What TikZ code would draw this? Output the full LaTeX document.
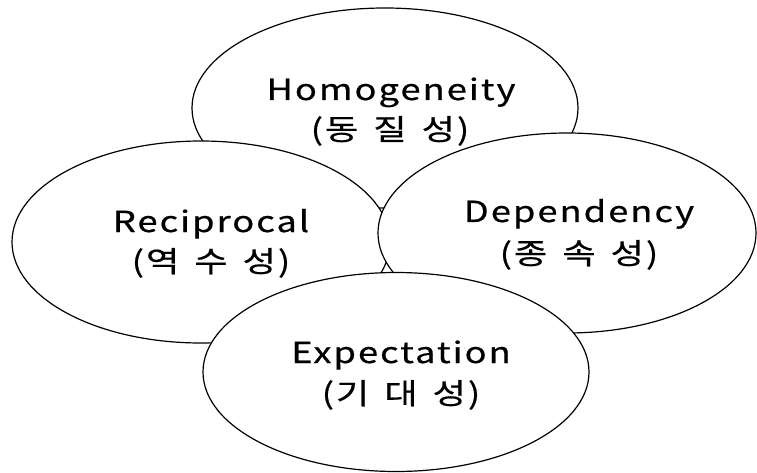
\documentclass[tikz,border=0pt]{standalone}
\usepackage{fontspec}
\setmainfont{Noto Sans CJK KR}[FakeStretch=1.25,LetterSpace=7,FakeBold=0.6]
\usetikzlibrary{shapes.geometric}
\newcommand\kgap{\hspace{15pt}}
\tikzset{
  oval/.style={ellipse, draw=black, fill=white, line width=1.2pt, inner sep=0pt},
  lbl/.style={anchor=base, inner sep=0pt, font=\fontsize{29}{32}\selectfont, text=black}
}
\begin{document}
\begin{tikzpicture}[x=1pt,y=-1pt]
\useasboundingbox[fill=white] (0,0) rectangle (757,473);
\node[oval, minimum width=386pt, minimum height=200pt] (homo) at (385,108) {};
\node[oval, minimum width=378pt, minimum height=202pt] (reci) at (201,242) {};
\node[oval, minimum width=378pt, minimum height=200pt] (depe) at (567,233) {};
\node[oval, minimum width=386pt, minimum height=199pt] (expe) at (396,372) {};
\node[lbl] (homoA) at (391,100) {Homogeneity};
\node[lbl] (homoB) at (390,140) {(동\kgap 질\kgap 성)};
\node[lbl] (reciA) at (211,232) {Reciprocal};
\node[lbl] (reciB) at (211,272) {(역\kgap 수\kgap 성)};
\node[lbl] (depeA) at (579,222) {Dependency};
\node[lbl] (depeB) at (579,264) {(종\kgap 속\kgap 성)};
\node[lbl] (expeA) at (401,363) {Expectation};
\node[lbl] (expeB) at (401,404) {(기\kgap 대\kgap 성)};
\end{tikzpicture}
\end{document}
